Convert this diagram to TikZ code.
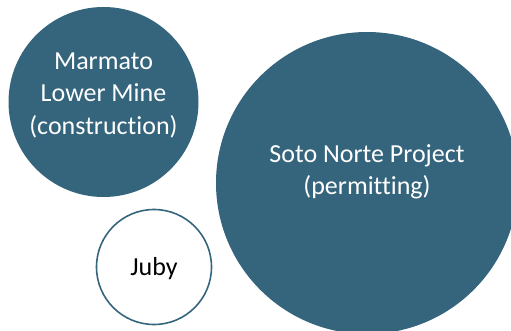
\documentclass[tikz,border=0pt]{standalone}
\usepackage{fontspec}
\setmainfont{Carlito}[Ligatures=NoCommon]
\definecolor{slate}{RGB}{53,101,124}
\begin{document}
\begin{tikzpicture}[x=1pt,y=-1pt,
  bubble/.style={circle, fill=slate, inner sep=0pt},
  ring/.style={circle, draw=slate, line width=1.6pt, fill=white, inner sep=0pt},
  caption/.style={align=center, font=\fontsize{26}{32.5}\selectfont, inner sep=0pt}]
  \useasboundingbox (0,0) rectangle (511,331);
  \node[bubble, minimum size=190pt,
    label={[caption, text=white, yshift=7pt]center:Marmato\\Lower Mine\\(construction)}]
    (marmato) at (103.5,102) {};
  \node[bubble, minimum size=302pt,
    label={[caption, text=white, yshift=11pt]center:Soto Norte Project\\(permitting)}]
    (soto) at (367,183) {};
  \node[ring, minimum size=115pt,
    label={[caption, text=black, yshift=-2pt]center:Juby}]
    (juby) at (154,267) {};
\end{tikzpicture}
\end{document}
